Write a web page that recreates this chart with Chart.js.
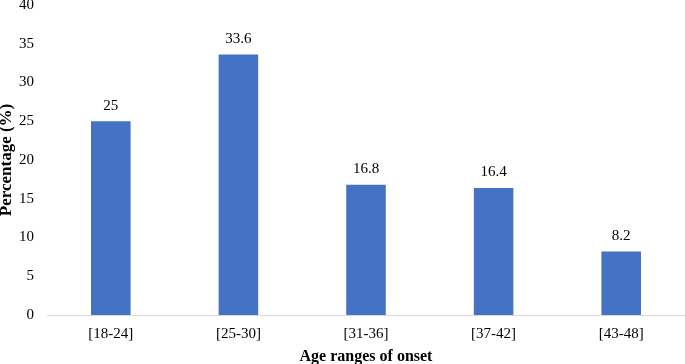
<!DOCTYPE html>
<html>
<head>
<meta charset="utf-8">
<script src="https://cdn.jsdelivr.net/npm/chart.js@4/dist/chart.umd.min.js"></script>
<style>
  html, body { margin: 0; padding: 0; background: #fff; overflow: hidden; }
  #wrap { width: 685px; height: 364px; overflow: hidden; position: relative; }
  #ageChart { position: absolute; left: -4px; top: -17px; }
</style>
</head>
<body>
<div id="wrap"><canvas id="ageChart" width="689" height="383"></canvas></div>
<script>
const ageRanges = ['[18-24]', '[25-30]', '[31-36]', '[37-42]', '[43-48]'];
const percentages = [25, 33.6, 16.8, 16.4, 8.2];
const yTicks = [0, 5, 10, 15, 20, 25, 30, 35, 40];

const serif = "'Liberation Serif', 'Times New Roman', serif";

// writes the value above each bar
const valueLabels = {
    id: 'valueLabels',
    afterDatasetsDraw(chart) {
        const ctx = chart.ctx;
        const meta = chart.getDatasetMeta(0);
        ctx.save();
        ctx.font = `15px ${serif}`;
        ctx.fillStyle = '#000';
        ctx.textAlign = 'center';
        ctx.textBaseline = 'bottom';
        meta.data.forEach((bar, i) => {
            ctx.fillText(String(percentages[i]), bar.x, bar.y - 8);
        });
        ctx.restore();
    }
};

const ctx = document.getElementById('ageChart').getContext('2d');
new Chart(ctx, {
    type: 'bar',
    data: {
        labels: ageRanges,
        datasets: [{
            data: percentages,
            backgroundColor: '#4472C4',
            borderWidth: 0,
            categoryPercentage: 1,
            barPercentage: 0.31
        }]
    },
    options: {
        responsive: false,
        animation: false,
        layout: { padding: { left: 0, right: 0, top: 0, bottom: 0 } },
        plugins: {
            legend: { display: false },
            tooltip: { enabled: false }
        },
        scales: {
            x: {
                afterFit(scale) {
                    scale.height = 51;
                },
                grid: { display: false, drawTicks: false },
                border: { display: true, color: '#d9d9d9', width: 1 },
                ticks: { color: '#000', font: { family: serif, size: 15 }, padding: 10 },
                title: {
                    display: true,
                    text: 'Age ranges of onset',
                    color: '#000',
                    font: { family: serif, size: 16, weight: 'bold' },
                    padding: { top: 3, bottom: 0 }
                }
            },
            y: {
                min: 0,
                max: 40,
                afterBuildTicks(scale) {
                    scale.ticks = yTicks.map(v => ({ value: v }));
                },
                afterFit(scale) {
                    scale.width = 51;
                },
                grid: { display: false, drawTicks: false },
                border: { display: false },
                ticks: { color: '#000', font: { family: serif, size: 15 }, padding: 13 },
                title: {
                    display: true,
                    text: 'Percentage (%)',
                    color: '#000',
                    font: { family: serif, size: 17, weight: 'bold' },
                    padding: { top: 0, bottom: 1 }
                }
            }
        }
    },
    plugins: [valueLabels]
});
</script>
</body>
</html>
